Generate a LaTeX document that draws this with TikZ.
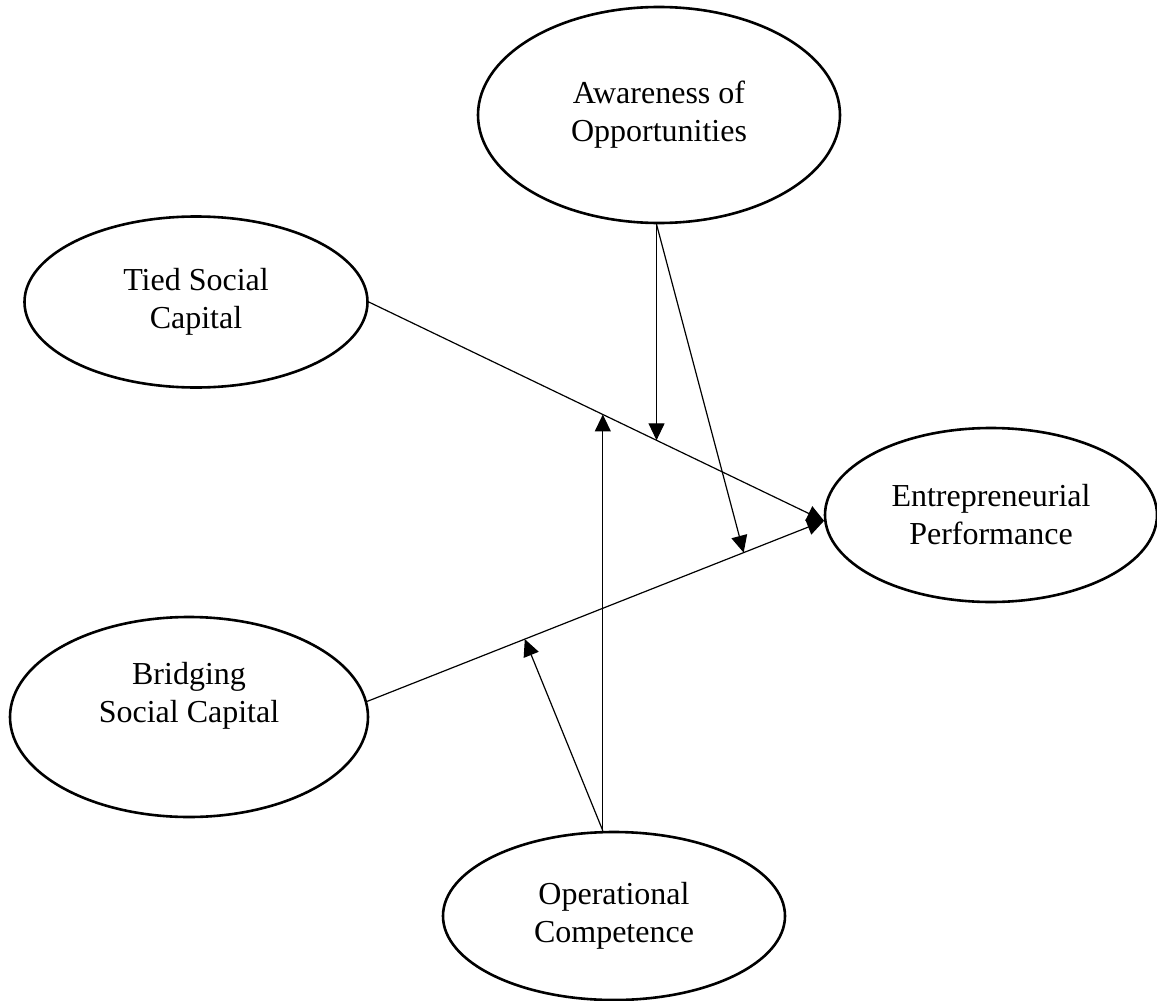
\documentclass[tikz,border=0pt]{standalone}
\usepackage{fontspec}
\setmainfont{Liberation Serif}
\usetikzlibrary{shapes.geometric,arrows.meta}
\tikzset{
  blob/.style={draw,ellipse,line width=1.3pt,align=center,font=\fontsize{16}{19}\selectfont},
  arr/.style={line width=0.6pt,-{Triangle[length=8.5pt,width=8pt]}}
}
\begin{document}
\begin{tikzpicture}[x=0.5pt,y=-0.5pt]
\useasboundingbox (0,0) rectangle (1157,1001);
\node[blob,minimum width=181pt,minimum height=108pt] (aware) at (659,115) {Awareness of\\Opportunities};
\node[blob,minimum width=171.5pt,minimum height=85.5pt] (tied) at (196,302) {Tied Social\\Capital};
\node[blob,minimum width=166pt,minimum height=87pt] (perf) at (991,515) {Entrepreneurial\\Performance};
\node[blob,minimum width=179pt,minimum height=100pt,text depth=25pt] (bridge) at (189,717) {Bridging\\Social Capital};
\node[blob,minimum width=171pt,minimum height=84pt] (oper) at (614,916) {Operational\\Competence};
% direct effects
\draw[arr] (tied.east) -- (perf.182) coordinate[pos=0.514] (m1) coordinate[pos=0.632] (m2);
\draw[arr] (bridge.5) -- (perf.182) coordinate[pos=0.345] (n1) coordinate[pos=0.824] (n2);
% moderators
\draw[arr] (m2 |- aware.south) -- (m2);
\draw[arr] (m2 |- aware.south) -- (n2);
\draw[arr] (m1 |- oper.north) -- (m1);
\draw[arr] (m1 |- oper.north) -- (n1);
\end{tikzpicture}
\end{document}
